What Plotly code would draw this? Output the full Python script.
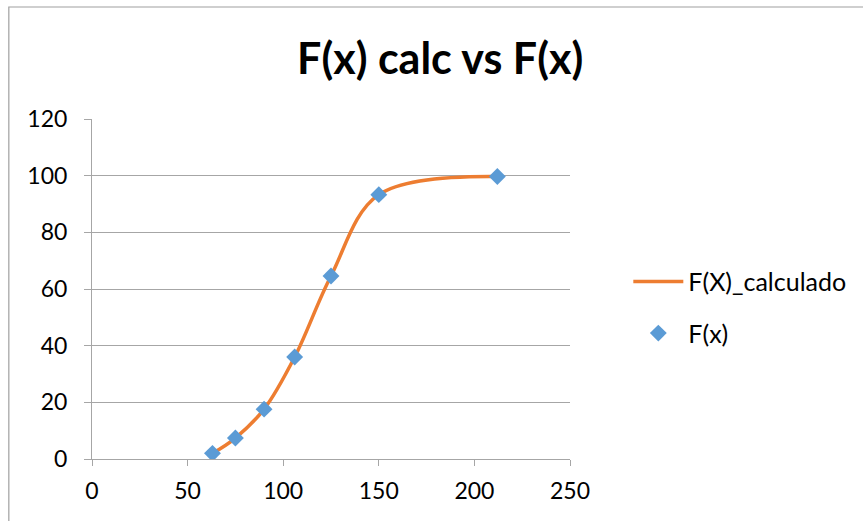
import plotly.graph_objects as go

x_vals = [63, 75, 90, 106, 125, 150, 212]
fx_obs = [2.0, 7.4, 17.6, 36.0, 64.6, 93.3, 99.7]
fx_calc = [2.0, 7.4, 17.6, 36.0, 64.6, 93.3, 99.7]

title_text = "F(x) calc vs F(x)"
x_ticks = [0, 50, 100, 150, 200, 250]
y_ticks = [0, 20, 40, 60, 80, 100, 120]

FONT = "Lato, Calibri, Carlito, sans-serif"

fig = go.Figure()
fig.add_trace(go.Scatter(
    x=x_vals, y=fx_calc, mode="lines", name="F(X)_calculado",
    line=dict(color="#ED7D31", width=3.5, shape="spline", smoothing=1.0),
    legendgroup="a",
))
fig.add_trace(go.Scatter(
    x=x_vals, y=fx_obs, mode="markers", name="F(x)",
    marker=dict(symbol="diamond", color="#5B9BD5", size=13),
    legendgroup="b",
))

fig.update_layout(
    width=863, height=521,
    margin=dict(l=92, r=293, t=119, b=62),
    paper_bgcolor="white", plot_bgcolor="white",
    font=dict(family=FONT, size=22, color="#000000"),
    title=dict(text="<b>" + title_text + "</b>", x=0.51, xanchor="center",
               y=0.886, yanchor="middle",
               font=dict(family=FONT, size=43, color="#000000")),
    showlegend=True,
    legend=dict(x=1.122, y=0.446, xanchor="left", yanchor="middle",
                font=dict(family=FONT, size=25), tracegroupgap=16,
                itemwidth=50, bgcolor="rgba(0,0,0,0)"),
    xaxis=dict(range=[0, 250], tickvals=x_ticks, showgrid=False, zeroline=False,
               showline=True, linecolor="#a6a6a6", linewidth=1,
               tickfont=dict(family=FONT, size=23, color="#000000"),
               ticks="outside", ticklen=6, tickcolor="#a6a6a6", ticklabelstandoff=5),
    yaxis=dict(range=[0, 120], tickvals=y_ticks, showgrid=True, gridcolor="#a6a6a6",
               gridwidth=1, zeroline=False, showline=True, linecolor="#a6a6a6",
               linewidth=1, ticks="outside", ticklen=7, tickcolor="#a6a6a6",
               tickfont=dict(family=FONT, size=23, color="#000000"),
               ticklabelstandoff=12),
    shapes=[dict(type="path", xref="paper", yref="paper",
                 path="M -0.174 -0.5 L -0.174 1.3294 L 1.7 1.3294",
                 line=dict(color="#a0a0a0", width=1.2))],
)

fig.write_html("out.html")
